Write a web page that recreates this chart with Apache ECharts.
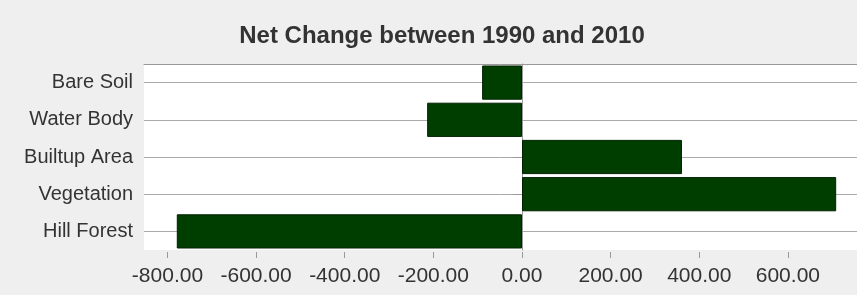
<!DOCTYPE html>
<html>
<head>
<meta charset="utf-8">
<script src="https://cdn.jsdelivr.net/npm/echarts@6/dist/echarts.min.js"></script>
<style>
  html,body{margin:0;padding:0;background:#efefef;}
  #chart{width:857px;height:295px;}
</style>
</head>
<body>
<div id="chart"></div>
<script>
// land cover classes, top to bottom
const categories = ['Bare Soil', 'Water Body', 'Builtup Area', 'Vegetation', 'Hill Forest'];
const netChange = [-90, -214, 361, 709, -779];
const xTicks = [-800, -600, -400, -200, 0, 200, 400, 600];

const C = { txt:'#333', axis:'#999', grid:'#aaa', bar:'#003e00', barEdge:'#002200' };
const font = 'Arial, "Liberation Sans", sans-serif';

const chart = echarts.init(document.getElementById('chart'));
chart.setOption({
  backgroundColor:'#efefef',
  animation:false,
  title:{ text:'Net Change between 1990 and 2010', left:437, top:19, textAlign:'center',
    textStyle:{ color:C.txt, fontSize:24, fontWeight:'bold', fontFamily:font } },
  grid:{ left:144, right:0, top:64, bottom:45, show:true, backgroundColor:'#fff', borderWidth:0 },
  xAxis:[{
    type:'value', min:-853, max:756, offset:2,
    axisLine:{ show:false },
    axisTick:{ show:true, length:6, customValues:xTicks, lineStyle:{ color:C.axis } },
    axisLabel:{ customValues:xTicks, margin:14, color:C.txt, fontSize:21, fontFamily:font,
      formatter:v=>v.toFixed(2) },
    splitLine:{ show:false }
  },{
    type:'value', min:-853, max:756, position:'top',
    axisLine:{ show:true, lineStyle:{ color:C.axis } },
    axisTick:{ show:false }, axisLabel:{ show:false }, splitLine:{ show:false }
  }],
  yAxis:{
    type:'category', inverse:true, data:categories,
    axisLine:{ show:true, lineStyle:{ color:C.axis } },
    axisTick:{ show:true, alignWithLabel:true, length:9, lineStyle:{ color:C.axis } },
    axisLabel:{ margin:11, color:C.txt, fontSize:20, fontFamily:font },
    splitLine:{ show:true, alignWithLabel:true, lineStyle:{ color:C.grid } }
  },
  series:[{
    type:'bar', data:netChange, xAxisIndex:0, barCategoryGap:'8%',
    itemStyle:{ color:C.bar, borderColor:C.barEdge, borderWidth:1 }
  }]
});
</script>
</body>
</html>
